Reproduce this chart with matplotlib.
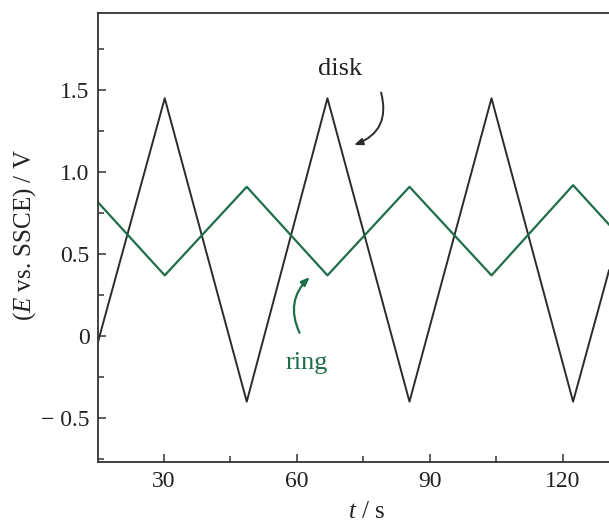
import matplotlib
matplotlib.use("Agg")
import matplotlib.pyplot as plt
from matplotlib.ticker import MultipleLocator, FixedLocator

# ---- data ----
t_vertices = [15.0, 30.2, 48.7, 66.9, 85.4, 103.9, 122.3, 130.4]
disk_E = [-0.05, 1.45, -0.40, 1.45, -0.40, 1.45, -0.40, 0.40]
ring_E = [0.82, 0.37, 0.91, 0.37, 0.91, 0.37, 0.92, 0.68]

x_ticks = [30, 60, 90, 120]
y_ticks = [-0.5, 0, 0.5, 1.0, 1.5]
y_tick_labels = ["\u2212 0.5", "0", "0.5", "1.0", "1.5"]

disk_color = "#2b2b2b"
ring_color = "#1e6e4a"

plt.rcParams["font.family"] = ["Liberation Serif", "DejaVu Serif"]
plt.rcParams["mathtext.fontset"] = "custom"
plt.rcParams["mathtext.rm"] = "Liberation Serif"
plt.rcParams["mathtext.it"] = "Liberation Serif:italic"

fig = plt.figure(figsize=(6.09, 5.25), dpi=100)
ax = fig.add_axes([98 / 609, 1 - 461.5 / 525, 1 - 98 / 609, (461.5 - 13) / 525])

ax.plot(t_vertices, disk_E, color=disk_color, lw=1.4)
ax.plot(t_vertices, ring_E, color=ring_color, lw=1.6)

ax.set_xlim(15.15, 130.4)
ax.set_ylim(-0.765, 1.97)

ax.xaxis.set_major_locator(FixedLocator(x_ticks))
ax.xaxis.set_minor_locator(MultipleLocator(15))
ax.yaxis.set_major_locator(FixedLocator(y_ticks))
ax.set_yticklabels(y_tick_labels)
ax.yaxis.set_minor_locator(MultipleLocator(0.25))

for s in ["left", "bottom", "top"]:
    ax.spines[s].set_color("#333333")
    ax.spines[s].set_linewidth(1.3)
ax.spines["right"].set_visible(False)

ax.tick_params(which="both", direction="in", color="#333333", width=1.1,
               labelsize=17, labelcolor="#222222")
ax.tick_params(which="major", length=6)
ax.tick_params(which="minor", length=4)
ax.tick_params(axis="x", pad=7)
ax.tick_params(axis="y", pad=6)

ax.set_ylabel("($E$ vs. SSCE) / V", fontsize=18, color="#222222")
ax.yaxis.set_label_coords(-0.118, 0.505)
ax.set_xlabel("$t$ / s", fontsize=18, color="#222222")
ax.xaxis.set_label_coords(0.525, -0.088)

ax.text(69.8, 1.63, "disk", fontsize=19, color="#222222", ha="center", va="center")
ax.text(62.2, -0.165, "ring", fontsize=19, color=ring_color, ha="center", va="center")

ax.annotate("", xy=(72.9, 1.165), xytext=(79.0, 1.485),
            arrowprops=dict(arrowstyle="-|>,head_length=0.5,head_width=0.2",
                            color=disk_color, lw=1.4,
                            connectionstyle="arc3,rad=-0.45",
                            shrinkA=0, shrinkB=0))
ax.annotate("", xy=(62.9, 0.36), xytext=(60.6, 0.02),
            arrowprops=dict(arrowstyle="-|>,head_length=0.5,head_width=0.2",
                            color=ring_color, lw=1.6,
                            connectionstyle="arc3,rad=-0.35",
                            shrinkA=0, shrinkB=0))

fig.savefig("out.png", dpi=100)
